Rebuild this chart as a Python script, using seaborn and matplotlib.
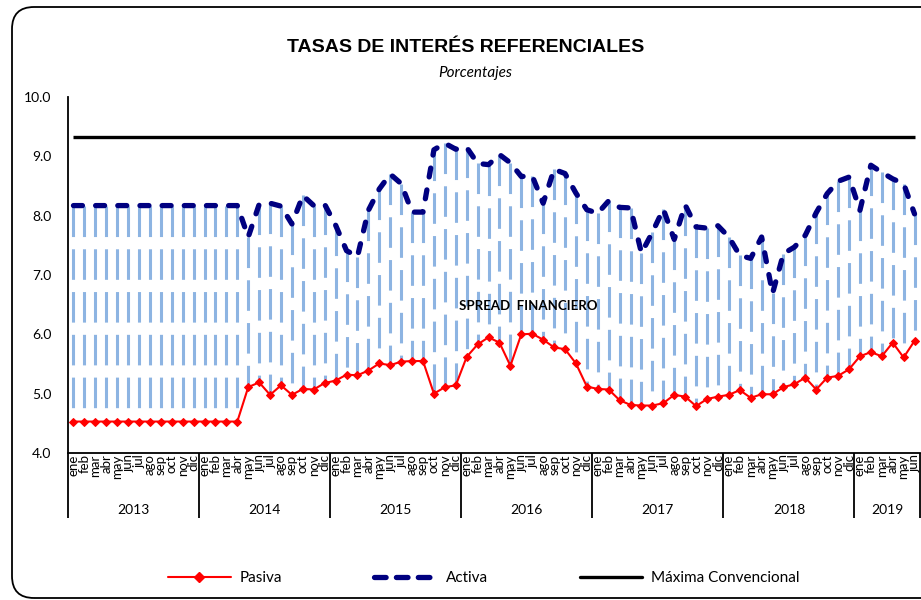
import matplotlib
matplotlib.use("Agg")
import matplotlib.pyplot as plt
import matplotlib.transforms as mtransforms
from matplotlib.patches import FancyBboxPatch
from matplotlib.lines import Line2D
import numpy as np
import pandas as pd
import seaborn as sns


sns.set_theme(style="white")
plt.rcParams["font.family"] = ["Lato", "DejaVu Sans"]
plt.rcParams["text.color"] = "black"
plt.rcParams["xtick.color"] = "black"
plt.rcParams["ytick.color"] = "black"

MESES = ["ene", "feb", "mar", "abr", "may", "jun", "jul", "ago", "sep", "oct", "nov", "dic"]
ANIOS = ["2013", "2014", "2015", "2016", "2017", "2018", "2019"]
MESES_POR_ANIO = [12, 12, 12, 12, 12, 12, 6]

PASIVA = [
    4.53, 4.53, 4.53, 4.53, 4.53, 4.53, 4.53, 4.53, 4.53, 4.53, 4.53, 4.53,
    4.53, 4.53, 4.53, 4.53, 5.11, 5.19, 4.98, 5.14, 4.98, 5.08, 5.07, 5.18,
    5.22, 5.32, 5.31, 5.39, 5.51, 5.48, 5.54, 5.55, 5.55, 5.00, 5.11, 5.14,
    5.62, 5.83, 5.95, 5.86, 5.47, 6.00, 6.01, 5.91, 5.78, 5.75, 5.51, 5.12,
    5.08, 5.07, 4.89, 4.81, 4.80, 4.80, 4.84, 4.98, 4.95, 4.79, 4.91, 4.95,
    4.98, 5.06, 4.93, 4.99, 4.99, 5.11, 5.16, 5.27, 5.07, 5.27, 5.30, 5.41,
    5.63, 5.70, 5.63, 5.86, 5.61, 5.89,
]
ACTIVA = [
    8.17, 8.17, 8.17, 8.17, 8.17, 8.17, 8.17, 8.17, 8.17, 8.17, 8.17, 8.17,
    8.17, 8.17, 8.17, 8.17, 7.64, 8.19, 8.21, 8.16, 7.86, 8.34, 8.17, 8.19,
    7.84, 7.41, 7.31, 8.09, 8.45, 8.70, 8.54, 8.06, 8.06, 9.11, 9.22, 9.12,
    9.15, 8.88, 8.86, 9.03, 8.89, 8.66, 8.67, 8.21, 8.78, 8.71, 8.38, 8.10,
    8.04, 8.25, 8.14, 8.13, 7.37, 7.72, 8.11, 7.60, 8.18, 7.81, 7.79, 7.83,
    7.64, 7.33, 7.28, 7.64, 6.69, 7.36, 7.47, 7.67, 8.05, 8.37, 8.58, 8.65,
    8.09, 8.85, 8.73, 8.62, 8.54, 8.03,
]
MAXIMA_CONVENCIONAL = 9.33

etiquetas = [m for n in MESES_POR_ANIO for m in MESES[:n]]
df = pd.DataFrame({"mes": np.arange(len(PASIVA)), "pasiva": PASIVA, "activa": ACTIVA})

fig = plt.figure(figsize=(9.21, 6), dpi=100)
ax = fig.add_axes([68 / 921, 1 - 453 / 600, 852 / 921, (453 - 97) / 600])

# spread: vertical dashed lines between the two rates
for _, row in df.iterrows():
    ax.plot([row.mes, row.mes], [row.activa, row.pasiva], color="#8DB4E2",
            lw=2.2, linestyle=(0, (10, 4)), dash_capstyle="butt", zorder=1)

ax.hlines(MAXIMA_CONVENCIONAL, df.mes.iloc[0], df.mes.iloc[-1], color="black", lw=2.4, zorder=2)
sns.lineplot(data=df, x="mes", y="activa", ax=ax, color="#000080", lw=3.8,
             linestyle=(0, (1.7, 2.5)), dash_capstyle="round", zorder=3)
sns.lineplot(data=df, x="mes", y="pasiva", ax=ax, color="#FF0000", lw=1.5,
             marker="D", markersize=4.5, markeredgecolor="#FF0000", zorder=4)

ax.set_xlim(-0.5, len(df) - 0.5)
ax.set_ylim(4, 10)
ax.set_xlabel("")
ax.set_ylabel("")
ax.set_yticks(np.arange(4, 10.1, 1))
ax.set_yticklabels([f"{v:.1f}" for v in np.arange(4, 10.1, 1)], fontsize=10)
ax.set_xticks(df.mes, etiquetas, rotation=90, fontsize=9.5)
ax.tick_params(axis="x", which="major", length=0, pad=1)
ax.tick_params(axis="y", length=0, pad=12)

limites = np.concatenate([[0], np.cumsum(MESES_POR_ANIO)]) - 0.5
ax.set_xticks(limites, minor=True)
ax.tick_params(axis="x", which="minor", bottom=True, length=47, width=1.3, color="black")

for sp in ["top", "right"]:
    ax.spines[sp].set_visible(False)
for sp in ["left", "bottom"]:
    ax.spines[sp].set_color("black")
    ax.spines[sp].set_linewidth(1.3)

trans = mtransforms.blended_transform_factory(ax.transData, ax.transAxes)
for anio, a, b in zip(ANIOS, limites[:-1], limites[1:]):
    ax.text((a + b) / 2, -0.16, anio, transform=trans, ha="center", va="center", fontsize=10)

ax.text(41.6, 6.47, "SPREAD  FINANCIERO", ha="center", va="center", fontsize=9.5, fontweight="bold")

fig.text(466 / 921, 1 - 47 / 600, "TASAS DE INTERÉS REFERENCIALES", ha="center", va="center",
         fontsize=14, fontweight="bold", family=["Liberation Sans", "DejaVu Sans"])
fig.text(475 / 921, 1 - 73 / 600, "Porcentajes", ha="center", va="center",
         fontsize=11, style="italic")

handles = [
    Line2D([], [], color="#FF0000", lw=1.5, marker="D", markersize=5),
    Line2D([], [], color="#000080", lw=3.8, linestyle=(0, (2.2, 1.95)), dash_capstyle="round"),
    Line2D([], [], color="black", lw=2.4),
]
fig.legend(handles, ["Pasiva", "Activa", "Máxima Convencional"], loc="center",
           bbox_to_anchor=(484 / 921, 1 - 578 / 600), ncol=3, frameon=False,
           handlelength=4.1, handletextpad=0.6, columnspacing=6.0, fontsize=11)

borde = FancyBboxPatch((12, 2), 960, 591, boxstyle="round,pad=0,rounding_size=22",
                       transform=mtransforms.IdentityTransform(), fill=False,
                       ec="black", lw=1.3)
fig.add_artist(borde)

fig.savefig("out.png", dpi=100)
